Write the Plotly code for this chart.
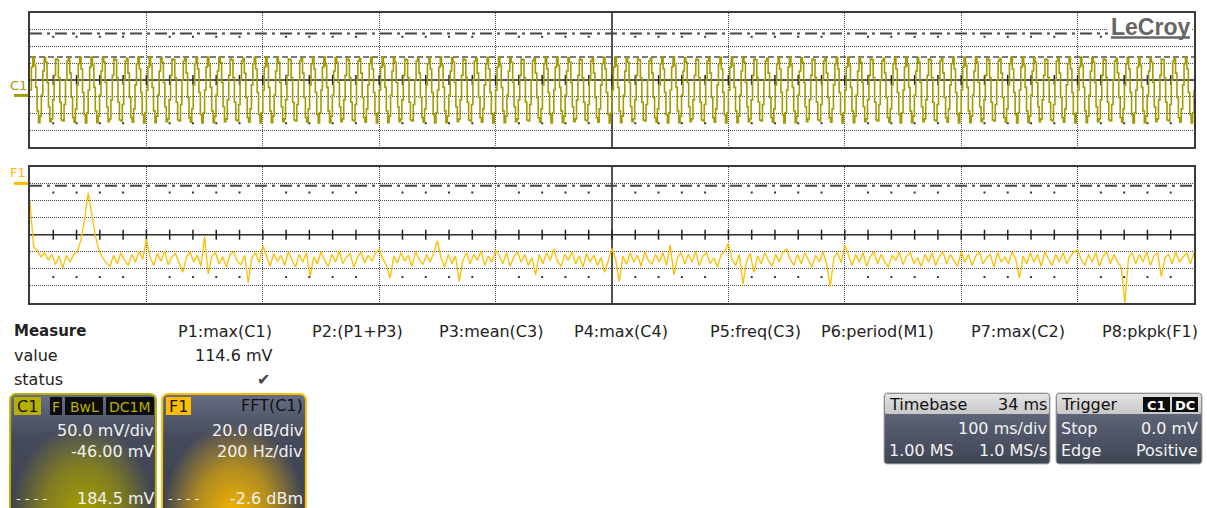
import numpy as np
import plotly.graph_objects as go

W, H = 1207, 508

# ---------------- data ----------------
# C1 channel (top grid)
C1_MV_PER_DIV = 50.0
C1_OFFSET_MV = -46.00
C1_CURSOR_MV = 184.5
C1_MAX_MV = 114.6
TRIG_LEVEL_MV = 0.0
TRIG_DELAY_MS = 34
MS_PER_DIV = 100
# one beat group of the sampled 100 Hz sine (5 cycles, 41 samples), mV
C1_GROUP_MV = [16.3, 84.4, 114.6, 89.7, 23.9, -46.2, -81.3, -61.8, 1.3, 72.8,
               112.8, 98.8, 38.7, -33.9, -78.5, -70.1, -13.4, 59.8, 108.8, 106.0,
               53.2, -20.4, -73.3, -76.2, -27.2, 46.0, 102.7, 111.1, 66.5, -6.1,
               -66.2, -80.2, -40.2, 31.3, 94.4, 113.9, 78.8, 8.7, -57.1, -81.9,
               -51.8]
C1_GROUP_COUNT = 20

# F1 = FFT(C1) (bottom grid)
F1_DB_PER_DIV = 20
F1_HZ_PER_DIV = 200
F1_CENTER_DBM = -60
F1_CURSOR_DBM = -2.6
F1_BIN_HZ = 6.25
F1_DBM = [
    -22, -74, -79, -86, -81, -90, -83, -95, -85, -99, -84, -92, -83, -80, -66, -42, -11, -38, -62, -79,
    -87, -93, -97, -84, -94, -81, -90, -96, -83, -92, -79, -89, -65, -86, -96, -82, -91, -79, -95, -86,
    -82, -93, -104, -86, -80, -92, -84, -97, -62, -106, -85, -81, -94, -86, -98, -83, -80, -91, -95, -84,
    -116, -87, -81, -93, -73, -85, -97, -82, -91, -84, -96, -80, -89, -98, -83, -92, -81, -109, -86, -94,
    -80, -90, -97, -83, -92, -79, -94, -86, -82, -98, -87, -80, -93, -84, -91, -81, -77, -88, -96, -111,
    -85, -93, -81, -91, -84, -97, -80, -89, -95, -83, -92, -81, -67, -87, -98, -83, -94, -85, -115, -90,
    -81, -94, -83, -90, -79, -96, -85, -92, -78, -84, -94, -81, -97, -86, -80, -92, -83, -96, -87, -107,
    -83, -94, -81, -90, -77, -91, -97, -83, -90, -80, -94, -85, -98, -82, -92, -84, -96, -87, -104, -91,
    -76, -89, -115, -85, -95, -81, -92, -84, -97, -80, -90, -94, -83, -92, -81, -96, -72, -107, -87, -81,
    -94, -83, -92, -80, -96, -85, -81, -94, -87, -98, -83, -80, -70, -89, -96, -83, -118, -91, -82, -104,
    -85, -94, -81, -90, -97, -83, -92, -80, -77, -89, -96, -83, -94, -81, -90, -98, -84, -92, -80, -94,
    -121, -87, -81, -93, -72, -85, -96, -83, -92, -81, -97, -86, -80, -94, -83, -92, -98, -84, -90, -80,
    -95, -85, -81, -94, -87, -97, -83, -92, -81, -96, -85, -80, -94, -83, -90, -97, -80, -92, -83, -96,
    -85, -80, -94, -87, -83, -98, -81, -92, -86, -94, -80, -89, -111, -85, -94, -81, -92, -83, -97, -80,
    -89, -96, -83, -92, -81, -94, -86, -80, -78, -89, -96, -83, -92, -81, -97, -85, -80, -94, -83, -92,
    -98, -140, -87, -81, -94, -83, -92, -80, -96, -85, -81, -109, -87, -83, -94, -80, -92, -86, -81, -94,
    -81,
]

# measurement table
MEAS_NAMES = ["P1:max(C1)", "P2:(P1+P3)", "P3:mean(C3)", "P4:max(C4)",
              "P5:freq(C3)", "P6:period(M1)", "P7:max(C2)", "P8:pkpk(F1)"]
MEAS_VALUES = ["114.6 mV", "", "", "", "", "", "", ""]
MEAS_STATUS = ["\u2714", "", "", "", "", "", "", ""]

# ---------------- colours ----------------
C1_COL = "#a39c00"
C1_BADGE = "#b8b000"
F1_COL = "#ffbd00"
GRID = "#4a4a4a"
FRAME = "#3a3a3a"
FONT = "DejaVu Sans"

# ---------------- derived series ----------------
c1_mv = C1_GROUP_MV * C1_GROUP_COUNT
dt = MS_PER_DIV * 10 / len(c1_mv)
c1_t = [-5 * MS_PER_DIV + i * dt for i in range(len(c1_mv))] + [5 * MS_PER_DIV]
c1_mv = c1_mv + [c1_mv[0]]
f1_hz = [i * F1_BIN_HZ for i in range(len(F1_DBM))]

c1_center = -C1_OFFSET_MV
c1_range = [c1_center - 4 * C1_MV_PER_DIV, c1_center + 4 * C1_MV_PER_DIV]
f1_range = [F1_CENTER_DBM - 4 * F1_DB_PER_DIV, F1_CENTER_DBM + 4 * F1_DB_PER_DIV]
t_range = [-5 * MS_PER_DIV, 5 * MS_PER_DIV]
f_range = [0, 10 * F1_HZ_PER_DIV]

# pixel layout helpers
XL, XR = 30, 1194
TOP_Y0, TOP_Y1 = 13, 147
F1_Y0, F1_Y1 = 166.5, 303


def ydom(p0, p1):
    return [1 - p1 / H, 1 - p0 / H]


fig = go.Figure()

# ---------------- top grid (C1) ----------------
minor_t = [t_range[0] + k * MS_PER_DIV / 5 for k in range(1, 50)]
minor_t_nomaj = [t for t in minor_t if abs(t / MS_PER_DIV - round(t / MS_PER_DIV)) > 1e-6]
fig.add_trace(go.Scatter(x=minor_t, y=[c1_center] * len(minor_t), mode="markers",
                         marker=dict(symbol="line-ns", size=7, line=dict(width=1.5, color="#222")),
                         xaxis="x", yaxis="y", hoverinfo="skip", showlegend=False))
for sgn in (1, -1):
    fig.add_trace(go.Scatter(x=minor_t_nomaj, y=[c1_center + sgn * 2.58 * C1_MV_PER_DIV] * len(minor_t_nomaj),
                             mode="markers", marker=dict(symbol="square", size=2, color="#333"),
                             xaxis="x", yaxis="y", hoverinfo="skip", showlegend=False))
fig.add_trace(go.Scatter(x=c1_t, y=c1_mv, mode="lines", line=dict(color=C1_COL, width=1.6, shape="hv"),
                         xaxis="x", yaxis="y", hoverinfo="skip", showlegend=False))
# trigger level (right) and trigger time (below) markers
fig.add_trace(go.Scatter(x=[t_range[1] + 7], y=[TRIG_LEVEL_MV], mode="markers", cliponaxis=False,
                         marker=dict(symbol="triangle-left", size=12, color=C1_COL),
                         xaxis="x", yaxis="y", hoverinfo="skip", showlegend=False))
fig.add_trace(go.Scatter(x=[TRIG_DELAY_MS], y=[c1_range[0] - 0.45 * C1_MV_PER_DIV], mode="markers",
                         cliponaxis=False, marker=dict(symbol="triangle-up", size=11, color=C1_COL),
                         xaxis="x", yaxis="y", hoverinfo="skip", showlegend=False))

# ---------------- bottom grid (F1) ----------------
minor_f = [k * F1_HZ_PER_DIV / 5 for k in range(1, 50)]
minor_f_nomaj = [f for f in minor_f if abs(f / F1_HZ_PER_DIV - round(f / F1_HZ_PER_DIV)) > 1e-6]
fig.add_trace(go.Scatter(x=minor_f, y=[F1_CENTER_DBM] * len(minor_f), mode="markers",
                         marker=dict(symbol="line-ns", size=7, line=dict(width=1.5, color="#222")),
                         xaxis="x2", yaxis="y2", hoverinfo="skip", showlegend=False))
for sgn in (1, -1):
    fig.add_trace(go.Scatter(x=minor_f_nomaj, y=[F1_CENTER_DBM + sgn * 2.48 * F1_DB_PER_DIV] * len(minor_f_nomaj),
                             mode="markers", marker=dict(symbol="square", size=2, color="#333"),
                             xaxis="x2", yaxis="y2", hoverinfo="skip", showlegend=False))
fig.add_trace(go.Scatter(x=f1_hz, y=F1_DBM, mode="lines", line=dict(color=F1_COL, width=1.3),
                         xaxis="x2", yaxis="y2", hoverinfo="skip", showlegend=False))
fig.add_trace(go.Scatter(x=[0], y=[f1_range[0] - 0.45 * F1_DB_PER_DIV], mode="markers", cliponaxis=False,
                         marker=dict(symbol="triangle-up", size=12, color=F1_COL),
                         xaxis="x2", yaxis="y2", hoverinfo="skip", showlegend=False))


# ---------------- bottom dialogs (overlay pixel axes) ----------------
def rrect(x0, y0, x1, y1, r, n=7):
    xs, ys = [], []
    for cx, cy, a0, a1 in [(x1 - r, y0 + r, -90, 0), (x1 - r, y1 - r, 0, 90),
                           (x0 + r, y1 - r, 90, 180), (x0 + r, y0 + r, 180, 270)]:
        for a in np.linspace(np.radians(a0), np.radians(a1), n):
            xs.append(cx + r * np.cos(a))
            ys.append(cy + r * np.sin(a))
    xs.append(xs[0]); ys.append(ys[0])
    return xs, ys


def ellipse(cx, cy, rx, ry, n=60):
    a = np.linspace(0, 2 * np.pi, n)
    return list(cx + rx * np.cos(a)), list(cy + ry * np.sin(a))


def panel(x0, y0, x1, y1, border, glow_rgb):
    xs, ys = rrect(x0, y0, x1, y1, 6)
    fig.add_trace(go.Scatter(x=xs, y=ys, fill="toself", mode="none",
                             fillgradient=dict(type="vertical", start=y0, stop=y1,
                                               colorscale=[[0, "#676d84"], [0.35, "#464b5c"], [1, "#3b4050"]]),
                             xaxis="x3", yaxis="y3", hoverinfo="skip", showlegend=False))
    r, g, b = glow_rgb
    ex, ey = ellipse((x0 + x1) / 2, y1 + 2, (x1 - x0) / 2, 92)
    fig.add_trace(go.Scatter(x=ex, y=ey, fill="toself", mode="none",
                             fillgradient=dict(type="radial",
                                               colorscale=[[0, f"rgba({r},{g},{b},1)"],
                                                           [0.55, f"rgba({r},{g},{b},0.6)"],
                                                           [1, f"rgba({r},{g},{b},0)"]]),
                             xaxis="x3", yaxis="y3", hoverinfo="skip", showlegend=False))
    fig.add_trace(go.Scatter(x=xs, y=ys, mode="lines", line=dict(color=border, width=2),
                             xaxis="x3", yaxis="y3", hoverinfo="skip", showlegend=False))


panel(10, 394, 156, 514, C1_BADGE, (170, 162, 0))
panel(162, 394, 306, 514, F1_COL, (246, 184, 0))


def infobox(x0, y0, x1, y1, hdr_h):
    xs, ys = rrect(x0, y0, x1, y1, 3)
    fig.add_trace(go.Scatter(x=xs, y=ys, fill="toself", mode="lines", line=dict(color="#b0b0b0", width=1),
                             fillgradient=dict(type="vertical", start=y0, stop=y1,
                                               colorscale=[[0, "#6e7488"], [0.5, "#545a6c"], [1, "#3f4453"]]),
                             xaxis="x3", yaxis="y3", hoverinfo="skip", showlegend=False))
    hx, hy = rrect(x0 + 1, y0 + 1, x1 - 1, y0 + hdr_h, 2)
    fig.add_trace(go.Scatter(x=hx, y=hy, fill="toself", mode="none",
                             fillgradient=dict(type="vertical", start=y0, stop=y0 + hdr_h,
                                               colorscale=[[0, "#e4e4e4"], [1, "#c8c8c8"]]),
                             xaxis="x3", yaxis="y3", hoverinfo="skip", showlegend=False))


infobox(884, 393, 1050, 464, 21)
infobox(1056, 393, 1202, 464, 21)

shapes = []
annotations = []


def txt(x, y, s, size=16, color="#111", anchor="left", family=FONT, bg=None):
    d = dict(x=x, y=y, xref="x3", yref="y3", text=s, showarrow=False, xanchor=anchor, yanchor="middle",
             font=dict(family=family, size=size, color=color))
    if bg:
        d["bgcolor"] = bg
    annotations.append(d)


def badge(x0, x1, y0, y1, fill, label, color, size=15):
    shapes.append(dict(type="rect", xref="x3", yref="y3", x0=x0, x1=x1, y0=y0, y1=y1,
                       fillcolor=fill, line=dict(width=0), layer="above"))
    txt((x0 + x1) / 2, (y0 + y1) / 2 + 0.5, label, size=size, color=color, anchor="center")


# grids: frames, centre lines, cursors
for xa, ya, xc, yc in [("x", "y", 0, c1_center), ("x2", "y2", f_range[1] / 2, F1_CENTER_DBM)]:
    shapes.append(dict(type="line", xref=xa, yref=f"{ya} domain", x0=xc, x1=xc, y0=0, y1=1,
                       line=dict(color="#1e1e1e", width=1.5), layer="below"))
    shapes.append(dict(type="line", xref=f"{xa} domain", yref=ya, x0=0, x1=1, y0=yc, y1=yc,
                       line=dict(color="#1e1e1e", width=1.5), layer="below"))
shapes.append(dict(type="line", xref="x domain", yref="y", x0=0, x1=1, y0=C1_CURSOR_MV, y1=C1_CURSOR_MV,
                   line=dict(color="#454545", width=2, dash="12px,5px,3px,5px"), layer="below"))
shapes.append(dict(type="line", xref="x2 domain", yref="y2", x0=0, x1=1, y0=F1_CURSOR_DBM, y1=F1_CURSOR_DBM,
                   line=dict(color="#454545", width=2, dash="12px,5px,3px,5px"), layer="below"))
shapes.append(dict(type="line", xref="x domain", yref="y", x0=0, x1=1, y0=C1_MAX_MV, y1=C1_MAX_MV,
                   line=dict(color="#505050", width=1.5, dash="6px,3px"), layer="below"))
# channel ground markers on the left
shapes.append(dict(type="line", xref="paper", yref="y", x0=14 / W, x1=28 / W, y0=0, y1=0,
                   line=dict(color=C1_COL, width=3)))
shapes.append(dict(type="line", xref="paper", yref="y2", x0=14 / W, x1=28 / W, y0=0, y1=0,
                   line=dict(color=F1_COL, width=3)))
txt(18, 85, "C1", size=13, color=C1_COL, anchor="center")
txt(18, 172, "F1", size=13, color=F1_COL, anchor="center")

# LeCroy logo (white patch, underline, text)
shapes.append(dict(type="rect", xref="x3", yref="y3", x0=1108, x1=1192, y0=15, y1=41,
                   fillcolor="white", line=dict(width=0), layer="above"))
shapes.append(dict(type="line", xref="x3", yref="y3", x0=1111, x1=1190, y0=37.5, y1=37.5,
                   line=dict(color="#666666", width=2.5), layer="above"))
txt(1150.5, 27, "<b>LeCroy</b>", size=23, color="#666666", anchor="center", family="Liberation Sans")

# measurement table
txt(12, 331, "<b>Measure</b>", size=15, color="#222")
txt(12, 355, "value", size=16, color="#222")
txt(12, 379, "status", size=16, color="#222")
MEAS_RIGHT = [274, 405, 545, 670, 803, 936, 1067, 1200]
for xr, name, val, st in zip(MEAS_RIGHT, MEAS_NAMES, MEAS_VALUES, MEAS_STATUS):
    txt(xr, 331, name, size=16, color="#222", anchor="right")
    if val:
        txt(xr, 355, val, size=16, color="#222", anchor="right")
    if st:
        txt(xr - 2, 379, st, size=16, color="#444", anchor="right")

# C1 dialog
badge(14, 41, 397, 415, C1_BADGE, "C1", "#151515", 16)
badge(50, 62, 397, 415, "#0c0c0c", "F", C1_BADGE, 14)
badge(65, 103, 397, 415, "#0c0c0c", "BwL", C1_BADGE, 14)
badge(106, 154, 397, 415, "#0c0c0c", "DC1M", C1_BADGE, 14)
txt(156, 430, f"{C1_MV_PER_DIV:.1f} mV/div", color="#f2f2f2", anchor="right")
txt(156, 451, f"{C1_OFFSET_MV:.2f} mV", color="#f2f2f2", anchor="right")
txt(14, 498, "- - - -", size=13, color="#f2f2f2")
txt(156, 498, f"{C1_CURSOR_MV:.1f} mV", color="#f2f2f2", anchor="right")

# F1 dialog
badge(166, 191, 397, 415, F1_COL, "F1", "#151515", 16)
txt(305, 405, "FFT(C1)", color="#111", anchor="right")
txt(305, 430, f"{F1_DB_PER_DIV:.1f} dB/div", color="#f2f2f2", anchor="right")
txt(305, 451, f"{F1_HZ_PER_DIV} Hz/div", color="#f2f2f2", anchor="right")
txt(166, 498, "- - - -", size=13, color="#f2f2f2")
txt(305, 498, f"{F1_CURSOR_DBM:.1f} dBm", color="#f2f2f2", anchor="right")

# Timebase / Trigger dialogs
txt(887, 404, "Timebase", color="#111")
txt(1049, 404, f"{TRIG_DELAY_MS} ms", color="#111", anchor="right")
txt(1049, 428, f"{MS_PER_DIV} ms/div", color="#f2f2f2", anchor="right")
txt(887, 450, "1.00 MS", color="#f2f2f2")
txt(1049, 450, "1.0 MS/s", color="#f2f2f2", anchor="right")
txt(1059, 404, "Trigger", color="#111")
badge(1143, 1170, 397, 412, "#0c0c0c", "<b>C1</b>", "#ffffff", 13)
badge(1172, 1198, 397, 412, "#0c0c0c", "<b>DC</b>", "#ffffff", 13)
txt(1059, 428, "Stop", color="#f2f2f2")
txt(1200, 428, f"{TRIG_LEVEL_MV:.1f} mV", color="#f2f2f2", anchor="right")
txt(1059, 450, "Edge", color="#f2f2f2")
txt(1200, 450, "Positive", color="#f2f2f2", anchor="right")

grid_common = dict(showgrid=True, gridcolor=GRID, griddash="1px,1px", gridwidth=1, zeroline=False,
                   showticklabels=False, ticks="", showline=True, mirror=True, linecolor=FRAME,
                   linewidth=2, fixedrange=True)

fig.update_layout(
    width=W, height=H, margin=dict(l=0, r=0, t=0, b=0),
    paper_bgcolor="white", plot_bgcolor="rgba(0,0,0,0)",
    showlegend=False,
    xaxis=dict(domain=[XL / W, XR / W], range=t_range, tick0=0, dtick=MS_PER_DIV, anchor="y", **grid_common),
    yaxis=dict(domain=ydom(TOP_Y0, TOP_Y1), range=c1_range, tick0=c1_center, dtick=C1_MV_PER_DIV,
               anchor="x", **grid_common),
    xaxis2=dict(domain=[XL / W, XR / W], range=f_range, tick0=0, dtick=F1_HZ_PER_DIV, anchor="y2", **grid_common),
    yaxis2=dict(domain=ydom(F1_Y0, F1_Y1), range=f1_range, tick0=F1_CENTER_DBM, dtick=F1_DB_PER_DIV,
                anchor="x2", **grid_common),
    xaxis3=dict(domain=[0, 1], range=[0, W], visible=False, anchor="y3", fixedrange=True),
    yaxis3=dict(domain=[0, 1], range=[H, 0], visible=False, anchor="x3", fixedrange=True),
    shapes=shapes, annotations=annotations,
)

fig.write_html("out.html", config=dict(displayModeBar=False))
